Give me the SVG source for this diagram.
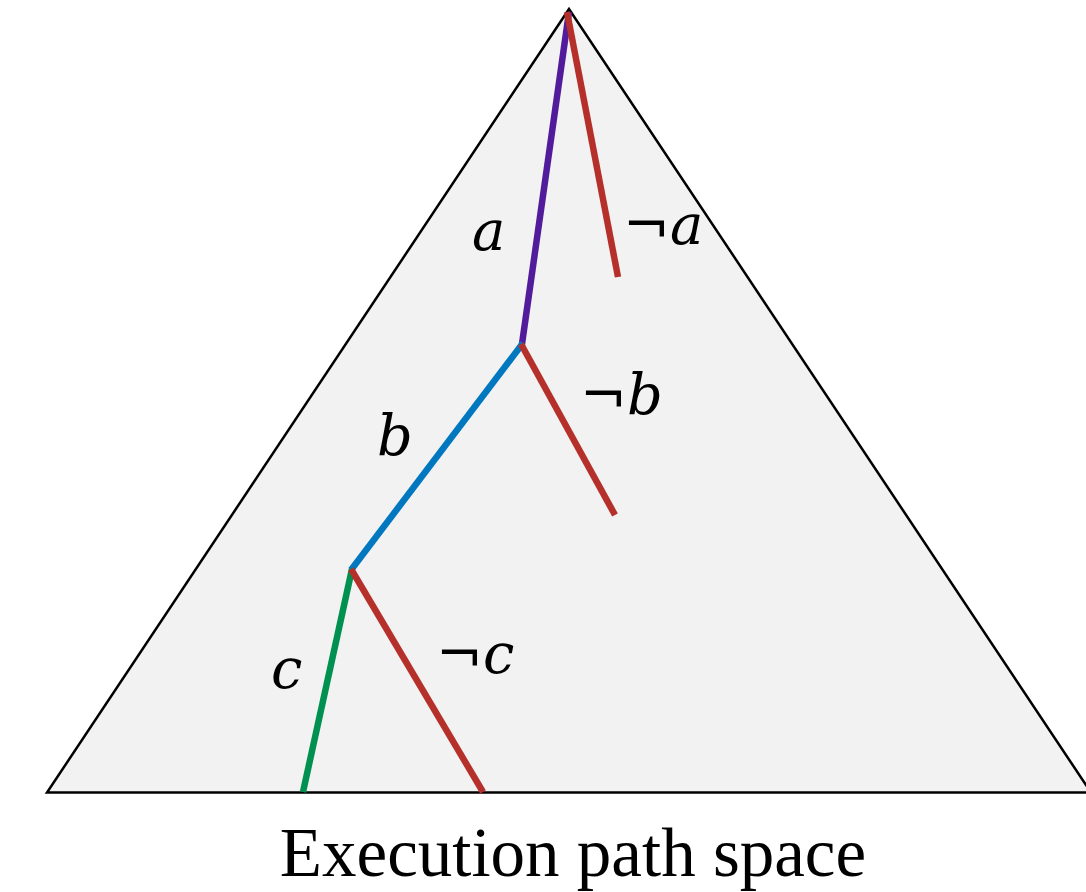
<svg xmlns="http://www.w3.org/2000/svg" width="1086" height="892" viewBox="0 0 1086 892">
<style>
.br{fill:none;stroke-width:6.5;stroke-linecap:butt}
.lbl{font-family:"DejaVu Serif","Liberation Serif",serif;font-style:italic;font-size:56px;fill:#000}
</style>
<g id="space">
<polygon points="569,9 47,792.5 1091,792.5" fill="#f2f2f2" stroke="#000" stroke-width="2.5"/>
</g>
<g id="connectors">
<line class="br" x1="569" y1="12" x2="522" y2="344" stroke="#521b9b"/>
<line class="br" x1="567" y1="12" x2="618" y2="277" stroke="#b5302a"/>
<line class="br" x1="523" y1="343" x2="351" y2="570" stroke="#0077be"/>
<line class="br" x1="521" y1="344" x2="615" y2="515" stroke="#b5302a"/>
<line class="br" x1="352" y1="569" x2="303" y2="792" stroke="#00904f"/>
<line class="br" x1="351" y1="569" x2="483" y2="792" stroke="#b5302a"/>
</g>
<g id="label-a"><text class="lbl" x="472" y="250">a</text></g>
<g id="label-not-a"><text class="lbl" x="623" y="244">¬a</text></g>
<g id="label-b"><text class="lbl" x="377" y="455">b</text></g>
<g id="label-not-b"><text class="lbl" x="580" y="414">¬b</text></g>
<g id="label-c"><text class="lbl" x="271" y="688">c</text></g>
<g id="label-not-c"><text class="lbl" x="436" y="673">¬c</text></g>
<g id="caption"><text x="573" y="876" text-anchor="middle" font-family="Liberation Serif, serif" font-size="69">Execution path space</text></g>
</svg>
